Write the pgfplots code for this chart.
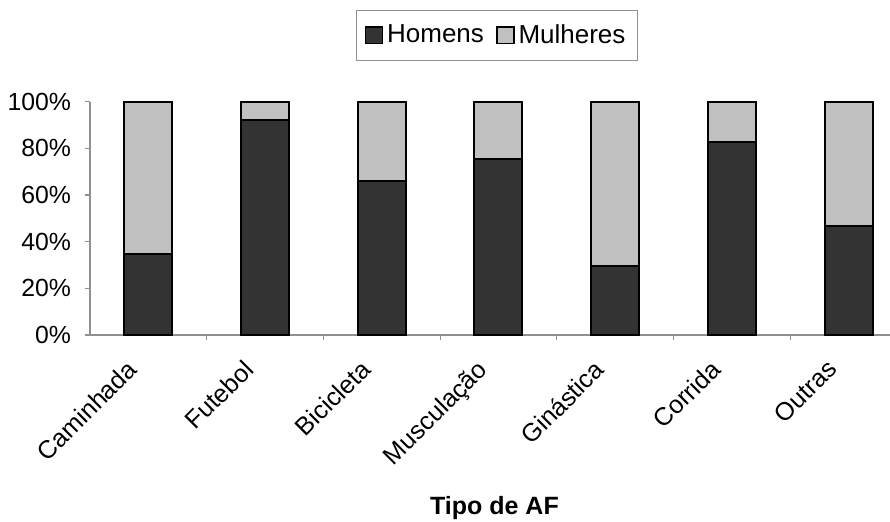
\documentclass[border=0pt]{standalone}
\usepackage{pgfplots}
\pgfplotsset{compat=1.18}
\usepackage{fontspec}
\setmainfont{Liberation Sans}
\definecolor{homens}{HTML}{333333}
\definecolor{mulheres}{HTML}{C0C0C0}
\definecolor{axgray}{HTML}{909090}
\begin{document}
\begin{tikzpicture}
\clip (-45pt,-93pt) rectangle (400pt,167.5pt);
\begin{axis}[
  scale only axis,
  width=400pt, height=116.7pt,
  xmin=-0.5, xmax=6.355,
  ymin=0, ymax=100,
  ybar stacked,
  bar width=24pt,
  axis lines=left,
  axis line style={-, draw=axgray, line width=0.6pt},
  xtick={0.5,1.5,2.5,3.5,4.5,5.5},
  xticklabels={},
  extra x ticks={0,1,2,3,4,5,6},
  extra x tick labels={Caminhada,Futebol,Bicicleta,Musculação,Ginástica,Corrida,Outras},
  extra x tick style={major tick length=0pt,
    xticklabel style={xshift=-11.3pt, yshift=-10pt, rotate=45, anchor=north east, font=\fontsize{12.6}{13}\selectfont, inner sep=1pt}},
  ytick={0,20,40,60,80,100},
  yticklabels={0\%,20\%,40\%,60\%,80\%,100\%},
  tick align=outside,
  tick style={draw=axgray, line width=0.6pt},
  major tick length=2.5pt,
  yticklabel style={font=\fontsize{12.4}{13}\selectfont, xshift=-3.5pt},
  xlabel={Tipo de AF},
  xlabel style={at={(axis cs:3,0)}, anchor=north, xshift=-2pt, yshift=-77pt, font=\fontsize{12.5}{13}\selectfont\bfseries},
  legend columns=2,
  legend style={at={(0.5,1)}, anchor=south, xshift=3.5pt, yshift=20.5pt, draw=axgray, line width=0.5pt,
    font=\fontsize{13}{13}\selectfont, inner xsep=4pt, inner ysep=5pt,
    /tikz/every even column/.append style={column sep=4pt}},
  legend image code/.code={\draw[#1, line width=0.8pt] (0pt,-4.2pt) rectangle (8.5pt,4.2pt);},
  clip=false,
]
\addplot[fill=homens, draw=black, line width=1pt] coordinates {(0,34.5) (1,92) (2,66) (3,75.6) (4,29.4) (5,82.9) (6,46.7)};
\addplot[fill=mulheres, draw=black, line width=1pt] coordinates {(0,65.5) (1,8) (2,34) (3,24.4) (4,70.6) (5,17.1) (6,53.3)};
\legend{Homens,Mulheres}
\end{axis}
\end{tikzpicture}
\end{document}
